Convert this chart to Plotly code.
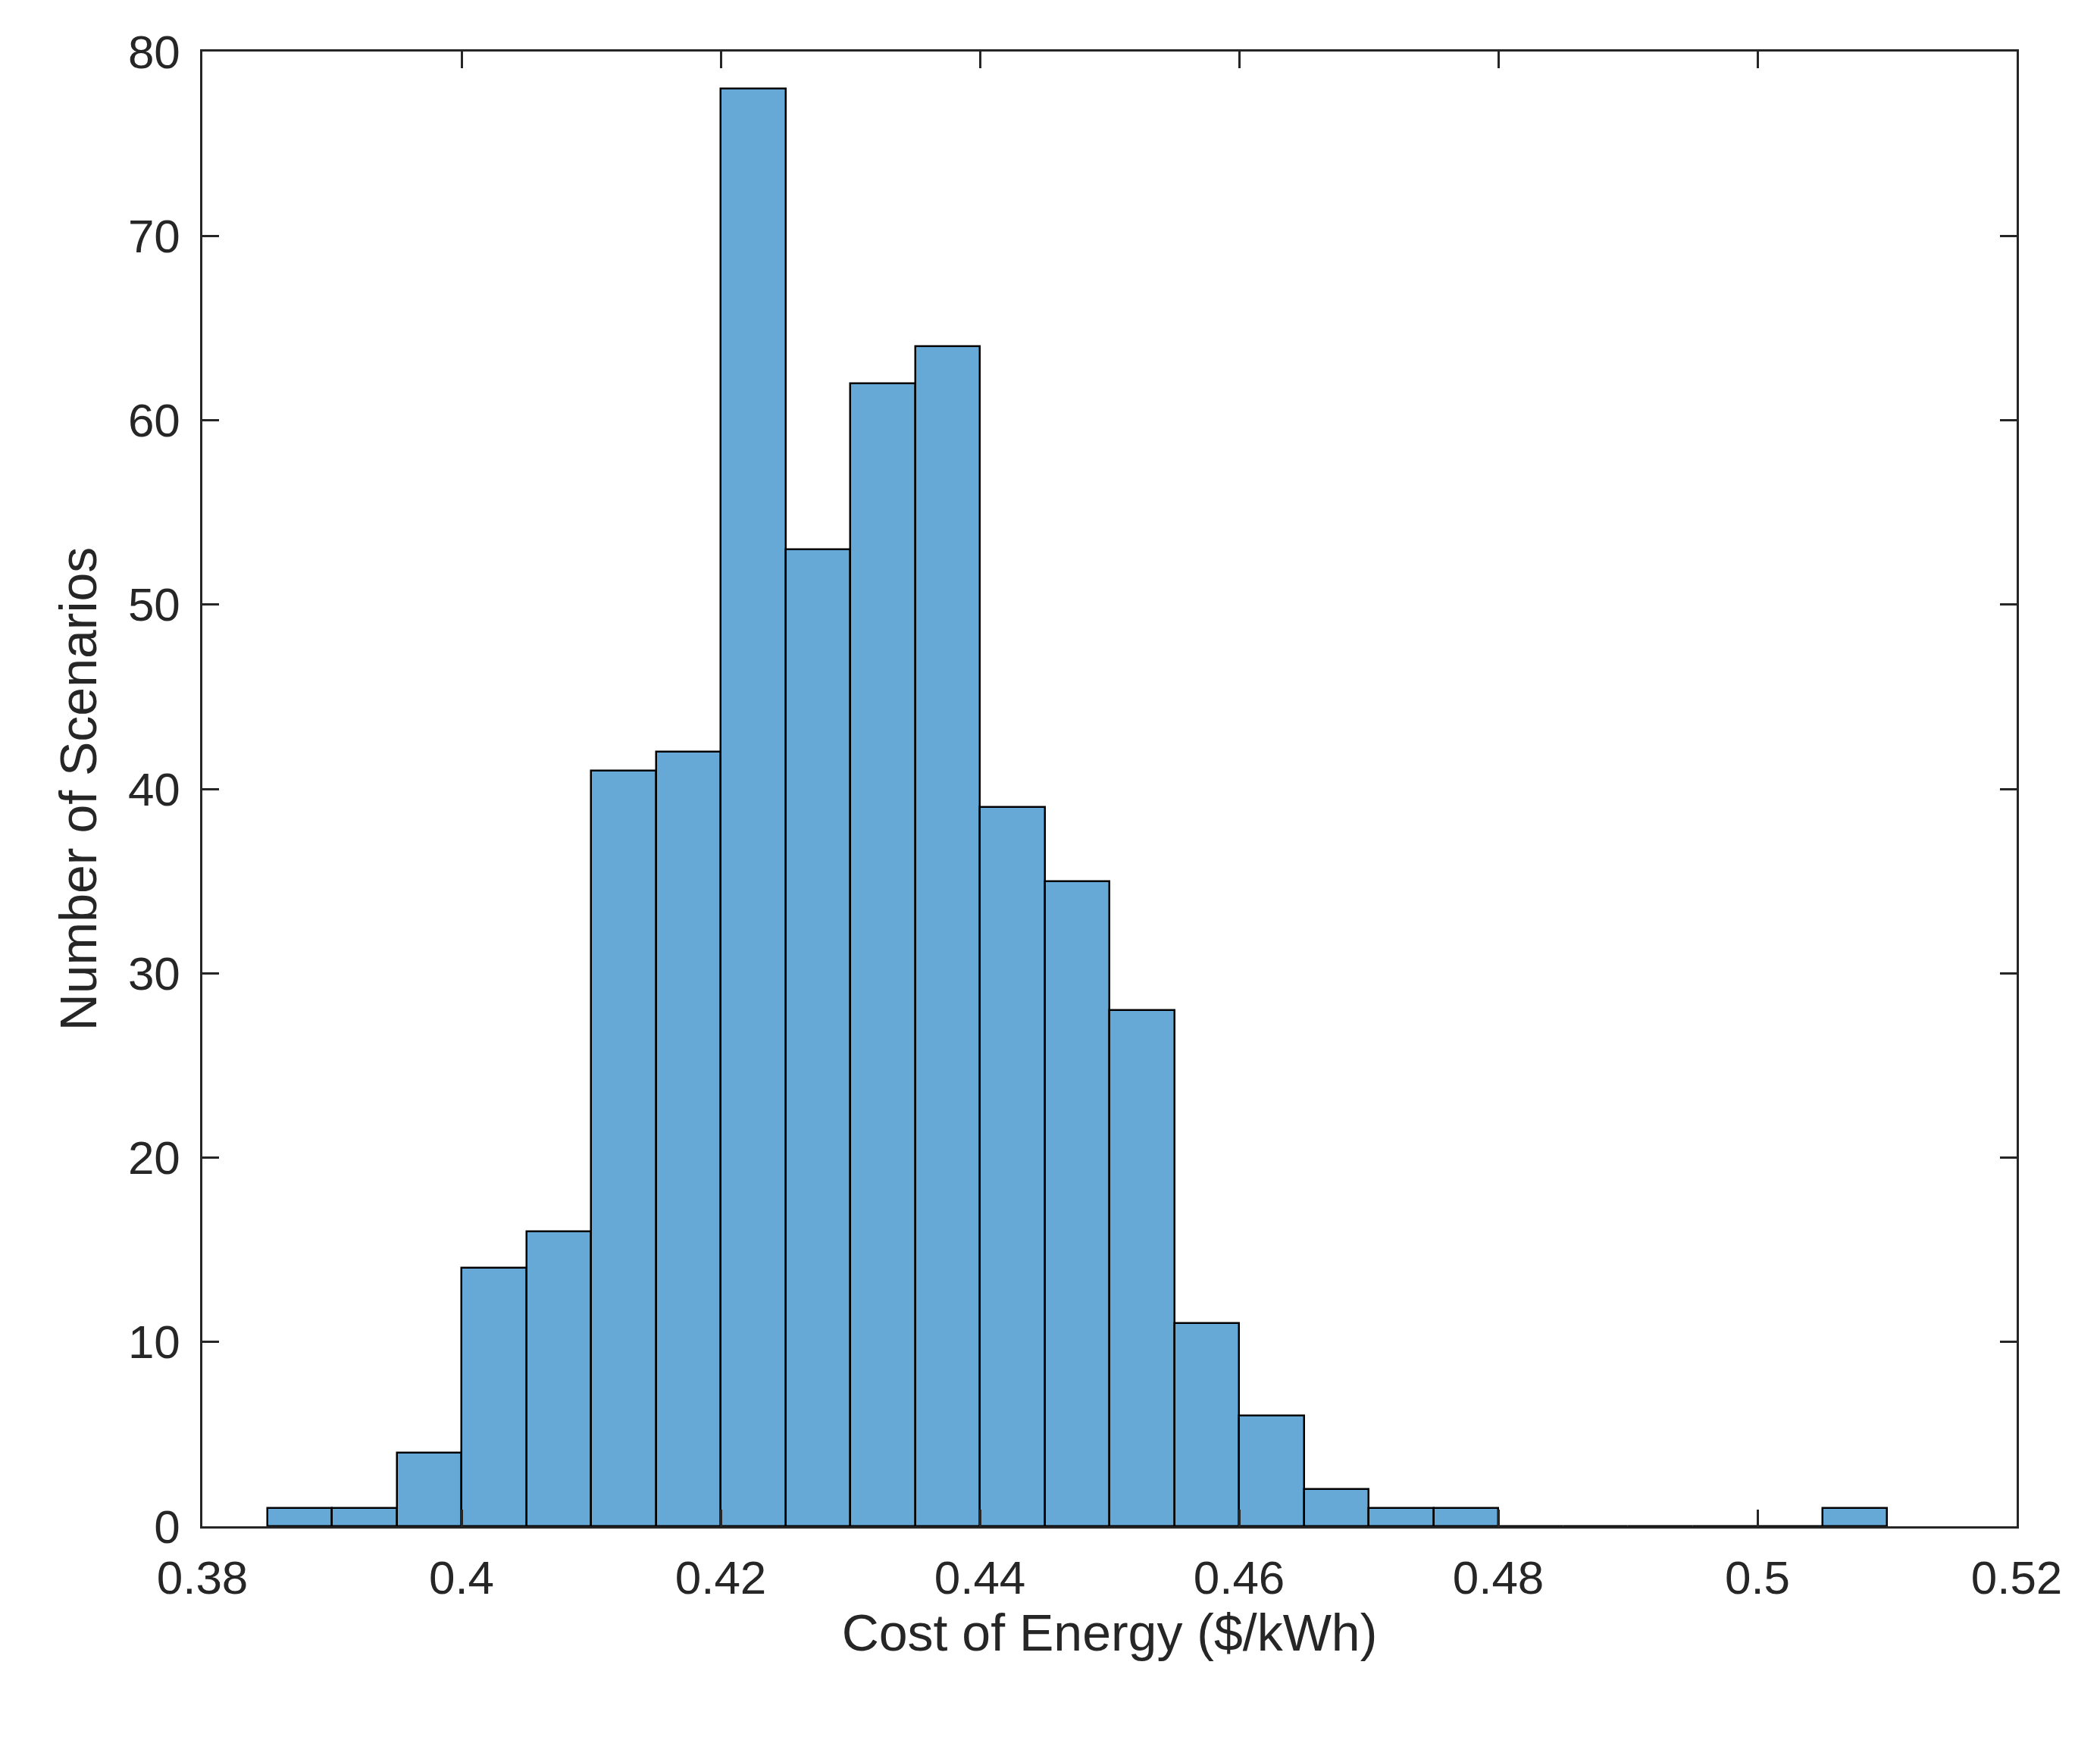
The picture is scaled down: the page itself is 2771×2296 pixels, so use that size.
import plotly.graph_objects as go

bin_left = [0.385, 0.39, 0.395, 0.40, 0.405, 0.41, 0.415, 0.42, 0.425, 0.43, 0.435,
            0.44, 0.445, 0.45, 0.455, 0.46, 0.465, 0.47, 0.475, 0.48, 0.485, 0.49,
            0.495, 0.50, 0.505]
counts = [1, 1, 4, 14, 16, 41, 42, 78, 53, 62, 64, 39, 35, 28, 11, 6, 2, 1, 1,
          0, 0, 0, 0, 0, 1]
bin_width = 0.005

fig = go.Figure(go.Bar(
    x=bin_left, y=counts, width=bin_width, offset=0,
    marker=dict(color="#66A8D6", line=dict(color="black", width=2.5)),
))

axis_common = dict(
    showline=True, linecolor="#262626", linewidth=2.5, mirror="ticks",
    ticks="inside", ticklen=22, tickwidth=2.5, tickcolor="#262626",
    showgrid=False, zeroline=False,
    tickfont=dict(size=62, color="#262626"),
    title_font=dict(size=68, color="#262626"),
)

fig.update_xaxes(range=[0.38, 0.52], dtick=0.02, tickformat="~g", ticklabelstandoff=12,
                 title_text="Cost of Energy ($/kWh)", title_standoff=15, **axis_common)
fig.update_yaxes(range=[0, 80], dtick=10, ticklabelstandoff=14,
                 title_text="Number of Scenarios", title_standoff=20, **axis_common)

fig.update_layout(
    width=2771, height=2296,
    margin=dict(l=259, r=118, t=60, b=290),
    plot_bgcolor="white", paper_bgcolor="white",
    font=dict(family="Liberation Sans, Arial, sans-serif"),
    showlegend=False, bargap=0,
)

fig.write_html("out.html")
